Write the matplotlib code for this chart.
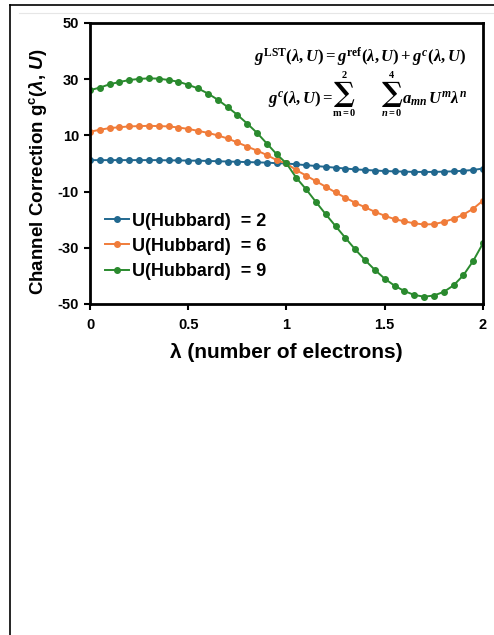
import numpy as np
import matplotlib.pyplot as plt
from matplotlib.lines import Line2D

# lambda grid, 0 to 2 in steps of 0.05
lam = np.arange(41) * 0.05

u2 = [1.2, 1.2, 1.2, 1.2, 1.2, 1.2, 1.2, 1.2, 1.1, 1.1,
      1.0, 1.0, 0.9, 0.8, 0.7, 0.6, 0.5, 0.4, 0.3, 0.1,
      0.0, -0.3, -0.6, -0.9, -1.2, -1.5, -1.8, -2.1, -2.3, -2.5,
      -2.7, -2.8, -2.9, -3.0, -3.0, -3.0, -2.9, -2.8, -2.6, -2.3, -1.8]
u6 = [11.3, 12.0, 12.6, 12.9, 13.2, 13.3, 13.4, 13.3, 13.2, 12.8,
      12.3, 11.6, 10.9, 10.0, 8.9, 7.5, 6.0, 4.6, 3.0, 1.2,
      0.0, -2.4, -4.3, -6.3, -8.3, -10.3, -12.2, -14.0, -15.6, -17.2,
      -18.6, -19.8, -20.6, -21.3, -21.7, -21.6, -20.8, -19.7, -18.2, -16.1, -13.2]
u9 = [26.1, 27.0, 28.2, 29.0, 29.7, 30.1, 30.3, 30.2, 29.7, 29.1,
      28.0, 26.7, 24.9, 22.7, 20.1, 17.3, 14.2, 10.9, 7.1, 3.3,
      0.0, -5.1, -9.2, -13.7, -18.1, -22.3, -26.5, -30.6, -34.4, -37.9,
      -41.0, -43.5, -45.4, -46.8, -47.4, -47.0, -45.7, -43.4, -39.8, -34.7, -28.4]

labels = ['U(Hubbard)  = 2', 'U(Hubbard)  = 6', 'U(Hubbard)  = 9']
colors = ['#21688f', '#f07c3a', '#2a8a2e']

plt.rcParams['font.family'] = ['Liberation Sans', 'DejaVu Sans']
plt.rcParams['font.weight'] = 'bold'
plt.rcParams['axes.unicode_minus'] = False
plt.rcParams['mathtext.fontset'] = 'custom'
plt.rcParams['mathtext.rm'] = 'Liberation Serif:bold'
plt.rcParams['mathtext.it'] = 'Liberation Serif:italic:bold'
plt.rcParams['mathtext.bf'] = 'Liberation Sans:bold'
plt.rcParams['mathtext.sf'] = 'Liberation Sans:italic:bold'

fig = plt.figure(figsize=(4.94, 6.35), dpi=100)
ax = fig.add_axes([0.1822, 0.5213, 0.7955, 0.4425])

for y, lab, c in zip([u2, u6, u9], labels, colors):
    ax.plot(lam, y, '-o', color=c, lw=1.4, ms=4, label=lab)

ax.set_xlim(0, 2)
ax.set_ylim(-50, 50)
ax.set_xticks([0, 0.5, 1, 1.5, 2])
ax.set_xticklabels(['0', '0.5', '1', '1.5', '2'])
ax.set_yticks([50, 30, 10, -10, -30, -50])
ax.tick_params(direction='out', length=4, width=1.5, labelsize=10.5)
ax.tick_params(axis='x', pad=6)
ax.tick_params(axis='y', pad=4)
for s in ax.spines.values():
    s.set_linewidth(2)

ax.set_xlabel('λ (number of electrons)', fontsize=15, fontweight='bold', labelpad=8)
ax.set_ylabel(r'Channel Correction g$^{\mathbf{c}}$($\mathsf{\lambda}$, $\mathsf{U}$)',
              fontsize=13.5, fontweight='bold')
ax.yaxis.set_label_coords(-0.105, 0.47)

ax.legend(loc='lower left', bbox_to_anchor=(0.02, 0.06), frameon=False,
          fontsize=13, handlelength=1.3, handletextpad=0.2, labelspacing=0.45,
          borderaxespad=0)


def fx(px):
    return (px - 90) / 393


def fy(py):
    return (304 - py) / 281


kw = dict(transform=ax.transAxes, fontsize=12)
ax.text(fx(466), fy(57), r'$g^{\mathrm{LST}}(\lambda, U) = g^{\mathrm{ref}}(\lambda, U) + g^{c}(\lambda, U)$',
        ha='right', va='center', **kw)
ax.text(fx(333), fy(99), r'$g^{c}(\lambda, U) =$', ha='right', va='center', **kw)
ax.text(fx(402), fy(99), r'$a_{mn}\,U^{m}\lambda^{n}$', ha='left', va='center', **kw)
for cx, top, bot in [(344.5, '2', r'$\mathrm{m=0}$'), (392, '4', r'$n\mathrm{=0}$')]:
    ax.text(fx(cx), fy(95), '∑', family='DejaVu Serif', fontsize=20, fontweight='bold',
            ha='center', va='center', transform=ax.transAxes)
    ax.text(fx(cx), fy(75), r'$\mathrm{' + top + '}$', fontsize=7.5,
            ha='center', va='center', transform=ax.transAxes)
    ax.text(fx(cx), fy(113), bot, fontsize=7.5,
            ha='center', va='center', transform=ax.transAxes)

# page frame lines
fig.add_artist(Line2D([10/494, 10/494], [0, 1 - 5/635], color='black', lw=1.2))
fig.add_artist(Line2D([10/494, 1], [1 - 5/635, 1 - 5/635], color='black', lw=1.2))
fig.add_artist(Line2D([19/494, 1], [1 - 13/635, 1 - 13/635], color='#e6e6e6', lw=0.8))

fig.savefig('out.png', dpi=100)
